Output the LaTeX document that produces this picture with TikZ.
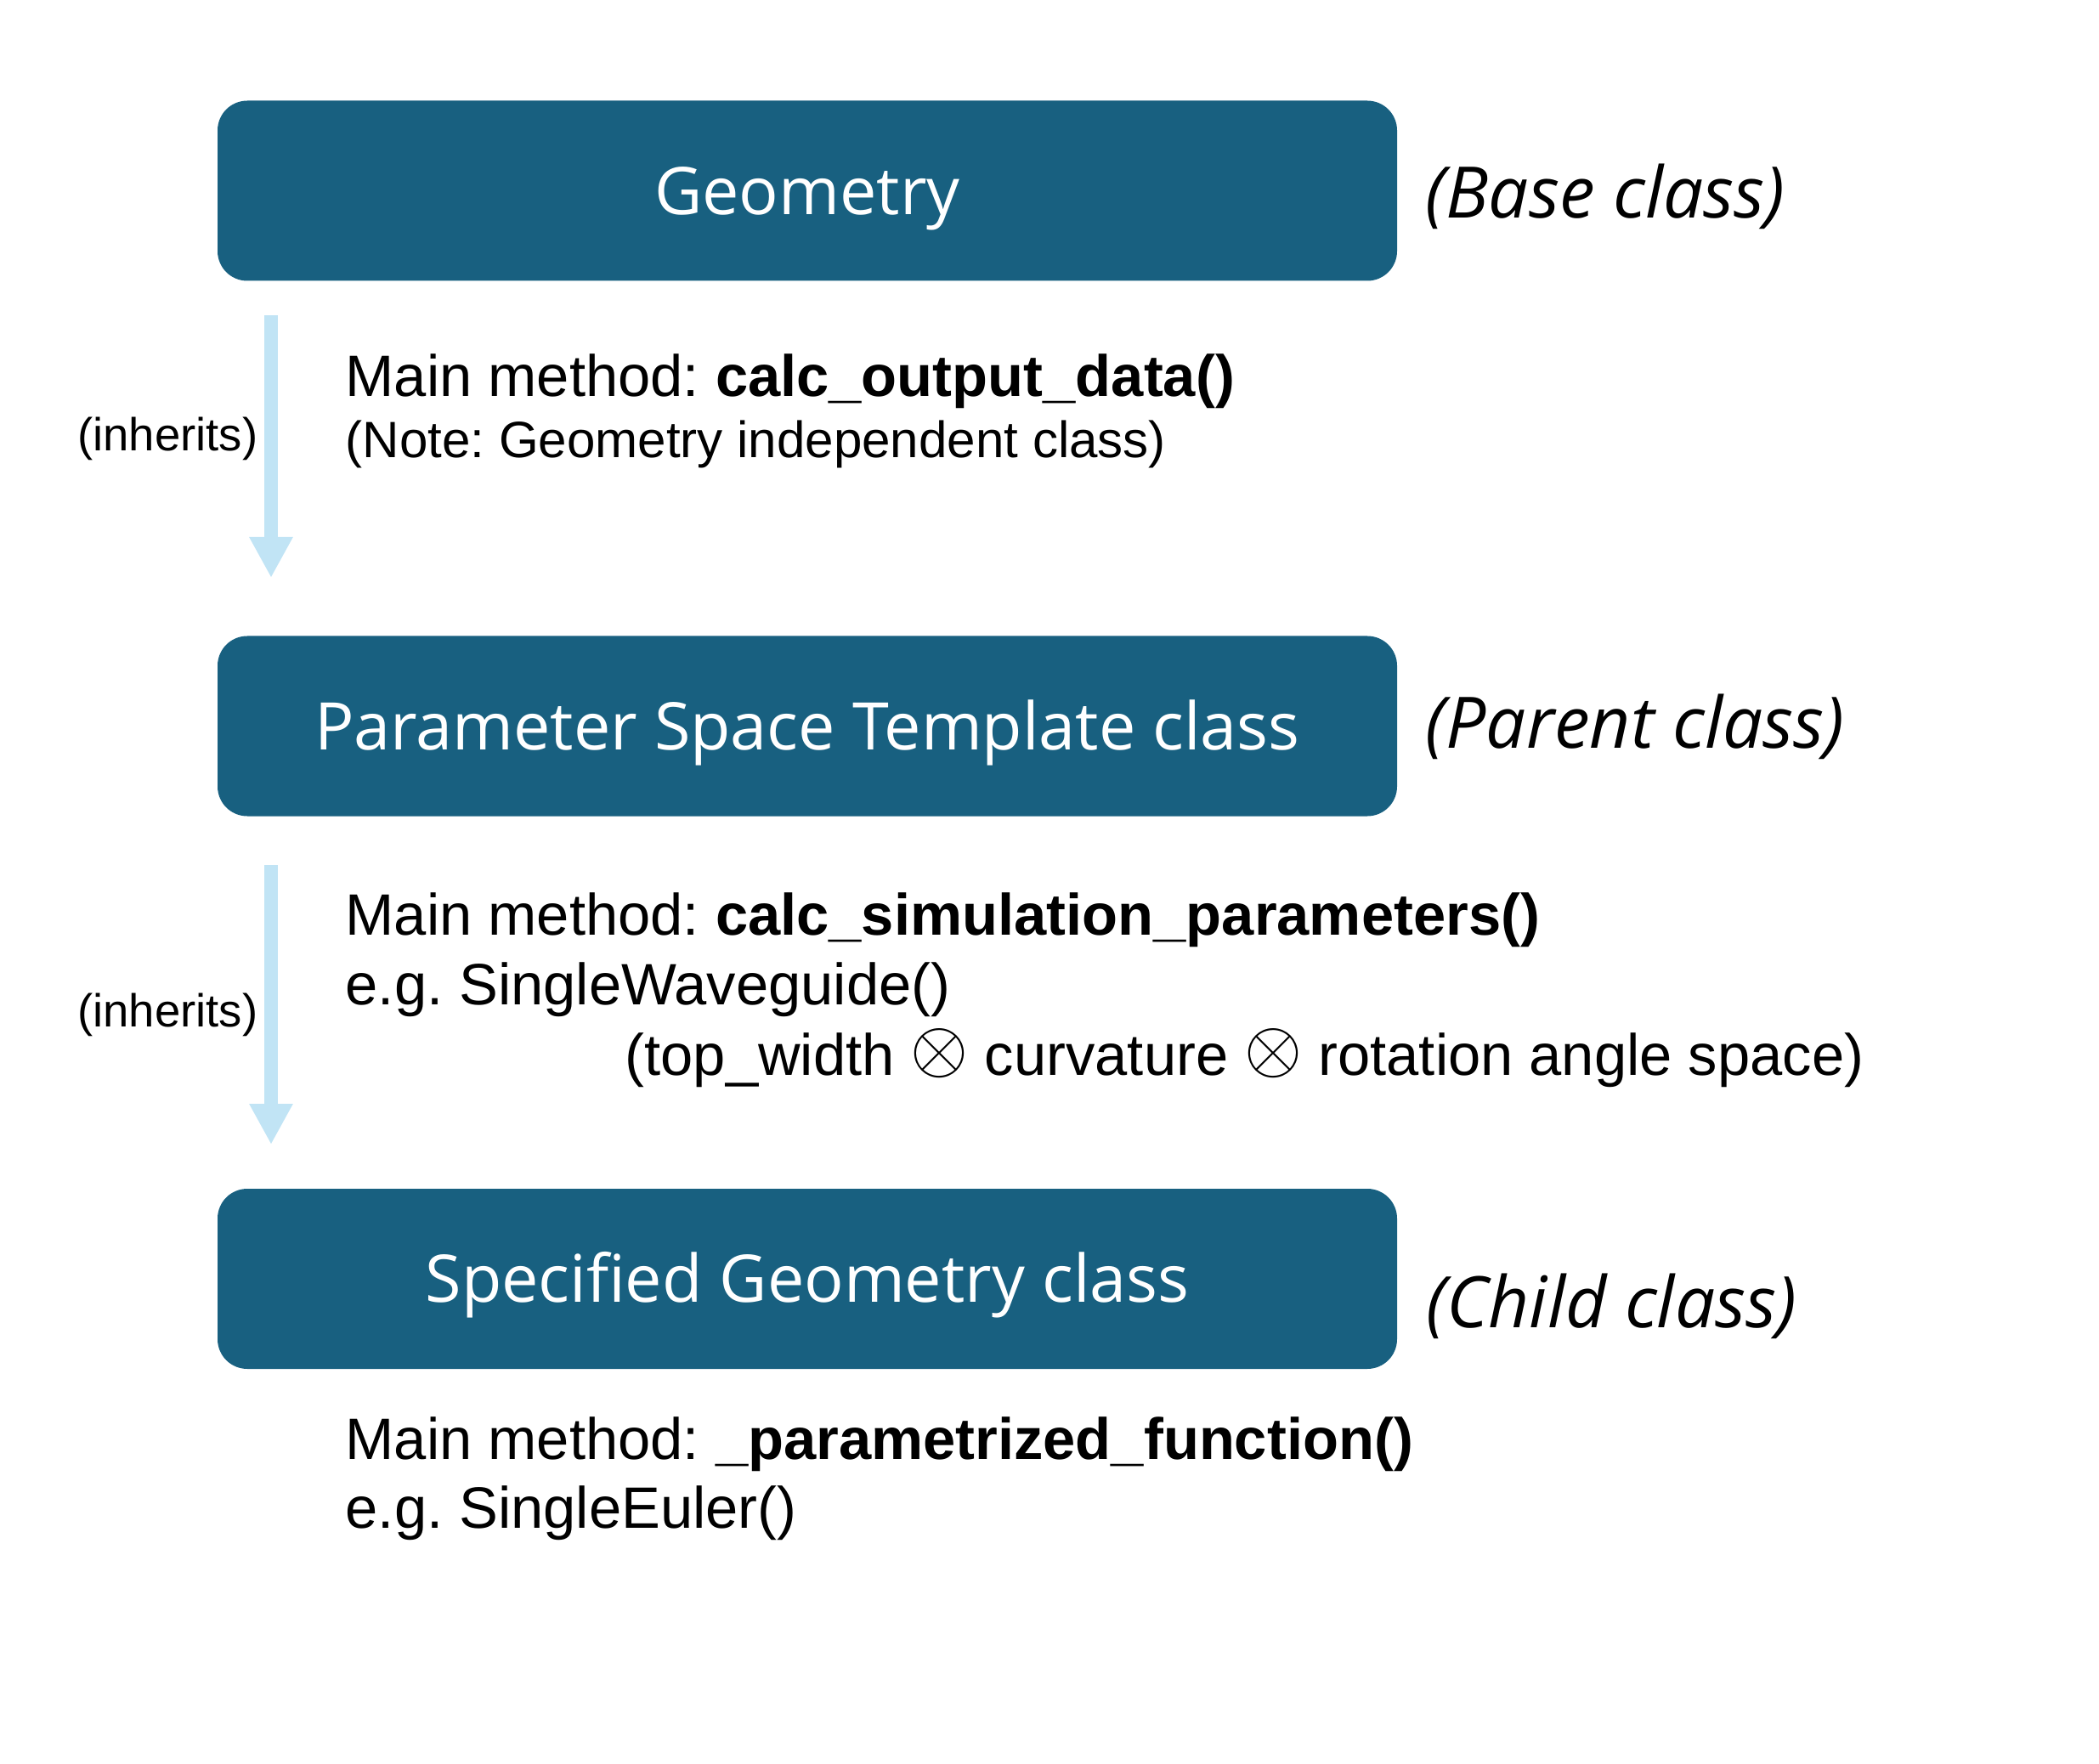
\documentclass[tikz,border=0pt]{standalone}
\usepackage{fontspec}
\usepackage{graphicx}
\setmainfont{Liberation Sans}
\newfontfamily\titlefont{Open Sans}
\usetikzlibrary{arrows.meta}
\definecolor{boxteal}{HTML}{186080}
\definecolor{arrowblue}{HTML}{C1E4F5}
\newcommand{\tensorop}{\smash{\raisebox{1.0pt}{\scalebox{1.2}{$\otimes$}}}}
\frenchspacing
\begin{document}
\begin{tikzpicture}[x=1cm,y=1cm,
  classbox/.style={fill=boxteal, rounded corners=0.35cm, minimum width=13.88cm, minimum height=2.12cm,
    inner sep=0pt, text=white, font=\titlefont\fontsize{22}{26}\selectfont, text height=0.555cm, text depth=0pt},
  rolelabel/.style={anchor=base west, inner sep=0pt, font=\titlefont\itshape\fontsize{23.8}{28}\selectfont},
  bodytext/.style={anchor=base west, inner sep=0pt, font=\fontsize{19.55}{24}\selectfont},
  inheritlabel/.style={anchor=base east, inner sep=0pt, font=\fontsize{15.5}{18}\selectfont},
  inheritarrow/.style={draw=arrowblue, line width=0.16cm, -{Triangle[width=0.48cm,length=0.48cm]}}
]
\useasboundingbox (0,0) rectangle (24.70,-20.76);

% class boxes
\node[classbox] (geo) at (9.50,-2.245) {Geometry};
\node[classbox] (param) at (9.50,-8.545) {Parameter Space Template class};
\node[classbox] (spec) at (9.50,-15.05) {Specified Geometry class};

% role labels
\node[rolelabel] (baselbl) at (16.77,-2.57) {(Base class)};
\node[rolelabel] (parentlbl) at (16.77,-8.81) {(Parent class)};
\node[rolelabel] (childlbl) at (16.78,-15.62) {(Child class)};

% inheritance arrows
\coordinate (a1s) at (3.19,-3.71);
\coordinate (a1e) at (3.19,-6.80);
\coordinate (a2s) at (3.19,-10.18);
\coordinate (a2e) at (3.19,-13.47);
\draw[inheritarrow] (a1s) -- (a1e);
\draw[inheritarrow] (a2s) -- (a2e);
\node[inheritlabel] (inh1) at (3.04,-5.31) {(inherits)};
\node[inheritlabel] (inh2) at (3.04,-12.08) {(inherits)};

% method texts
\node[bodytext] (m1) at (4.06,-4.67) {Main method: \textbf{calc\_output\_data()}};
\node[bodytext, font=\fontsize{17.1}{20}\selectfont] (n1) at (4.06,-5.39) {(Note: Geometry independent class)};
\node[bodytext] (m2) at (4.06,-11.00) {Main method: \textbf{calc\_simulation\_parameters()}};
\node[bodytext] (e2) at (4.06,-11.82) {e.g. SingleWaveguide()};
\node[bodytext] (s2) at (7.35,-12.65) {(top\_width \tensorop{} curvature \tensorop{} rotation angle space)};
\node[bodytext] (m3) at (4.06,-17.17) {Main method: \textbf{\_parametrized\_function()}};
\node[bodytext] (e3) at (4.06,-17.98) {e.g. SingleEuler()};
\end{tikzpicture}
\end{document}
